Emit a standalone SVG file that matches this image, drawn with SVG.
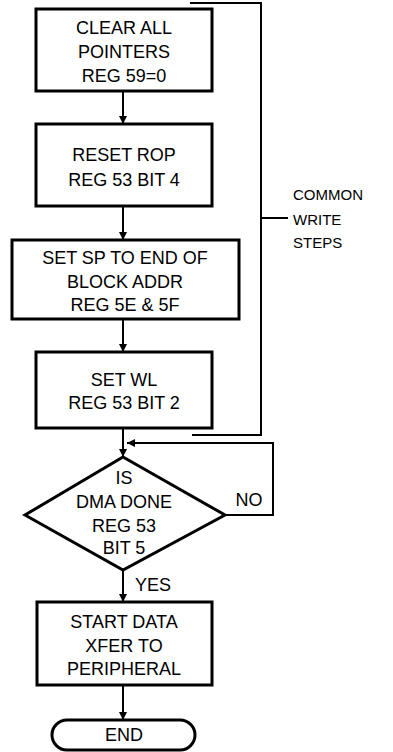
<svg xmlns="http://www.w3.org/2000/svg" width="393" height="752" viewBox="0 0 393 752">
<defs>
<marker id="ah" viewBox="0 0 10 10" refX="10" refY="5" markerWidth="6" markerHeight="6" markerUnits="userSpaceOnUse" orient="auto">
<path d="M0,0 L10,5 L0,10 z" fill="#000"/>
</marker>
<marker id="ahd" viewBox="0 0 10 10" refX="10" refY="5" markerWidth="16" markerHeight="8" orient="auto" markerUnits="userSpaceOnUse">
<path d="M0,0 L10,5 L0,10 z" fill="#000"/>
</marker>
</defs>
<style>
.box{fill:#fff;stroke:#000;stroke-width:3}
.t{font-family:"Liberation Sans",Arial,sans-serif;font-size:18px;fill:#000;text-anchor:middle;dominant-baseline:central}
.s{font-family:"Liberation Sans",Arial,sans-serif;font-size:15px;fill:#000;dominant-baseline:central}
.c{fill:none;stroke:#000;stroke-width:2}
</style>
<rect width="393" height="752" fill="#fff"/>
<g id="connectors">
<line class="c" x1="123" y1="91" x2="123" y2="124" marker-end="url(#ahd)"/>
<line class="c" x1="123" y1="206" x2="123" y2="240" marker-end="url(#ahd)"/>
<line class="c" x1="123" y1="319" x2="123" y2="352" marker-end="url(#ahd)"/>
<line class="c" x1="123" y1="428" x2="123" y2="457" marker-end="url(#ahd)"/>
<polyline class="c" points="225,515 273,515 273,443 127,443" marker-end="url(#ahd)"/>
<line class="c" x1="123" y1="570" x2="123" y2="602" marker-end="url(#ahd)"/>
<line class="c" x1="123" y1="685" x2="123" y2="720" marker-end="url(#ahd)"/>
<polyline class="c" points="190,3 261,3 261,435 192,435"/>
<line class="c" x1="261" y1="218" x2="288" y2="218"/>
</g>
<g id="n1">
<rect class="box" x="36" y="9" width="176" height="82"/>
<text class="t" x="124" y="28">CLEAR ALL</text>
<text class="t" x="124" y="52">POINTERS</text>
<text class="t" x="124" y="76">REG 59=0</text>
</g>
<g id="n2">
<rect class="box" x="36" y="124" width="176" height="82"/>
<text class="t" x="124" y="155">RESET ROP</text>
<text class="t" x="124" y="180">REG 53 BIT 4</text>
</g>
<g id="n3">
<rect class="box" x="12" y="240" width="227" height="79"/>
<text class="t" x="125" y="258">SET SP TO END OF</text>
<text class="t" x="125" y="282">BLOCK ADDR</text>
<text class="t" x="125" y="305">REG 5E &amp; 5F</text>
</g>
<g id="n4">
<rect class="box" x="36" y="352" width="176" height="76"/>
<text class="t" x="124" y="380">SET WL</text>
<text class="t" x="124" y="403">REG 53 BIT 2</text>
</g>
<g id="n5">
<polygon class="box" points="123,457 225,515 123,570 25,515"/>
<text class="t" x="124" y="478">IS</text>
<text class="t" x="124" y="502">DMA DONE</text>
<text class="t" x="124" y="526">REG 53</text>
<text class="t" x="124" y="548">BIT 5</text>
</g>
<g id="n6">
<rect class="box" x="37" y="602" width="175" height="83"/>
<text class="t" x="124" y="622">START DATA</text>
<text class="t" x="124" y="646">XFER TO</text>
<text class="t" x="124" y="669">PERIPHERAL</text>
</g>
<g id="n7">
<rect class="box" x="52" y="720" width="143" height="30" rx="15" ry="15"/>
<text class="t" x="124" y="735">END</text>
</g>
<g id="labels">
<text class="t" x="249" y="500">NO</text>
<text class="t" x="153" y="585">YES</text>
<text class="s" x="293" y="194">COMMON</text>
<text class="s" x="293" y="219">WRITE</text>
<text class="s" x="293" y="242">STEPS</text>
</g>
</svg>
